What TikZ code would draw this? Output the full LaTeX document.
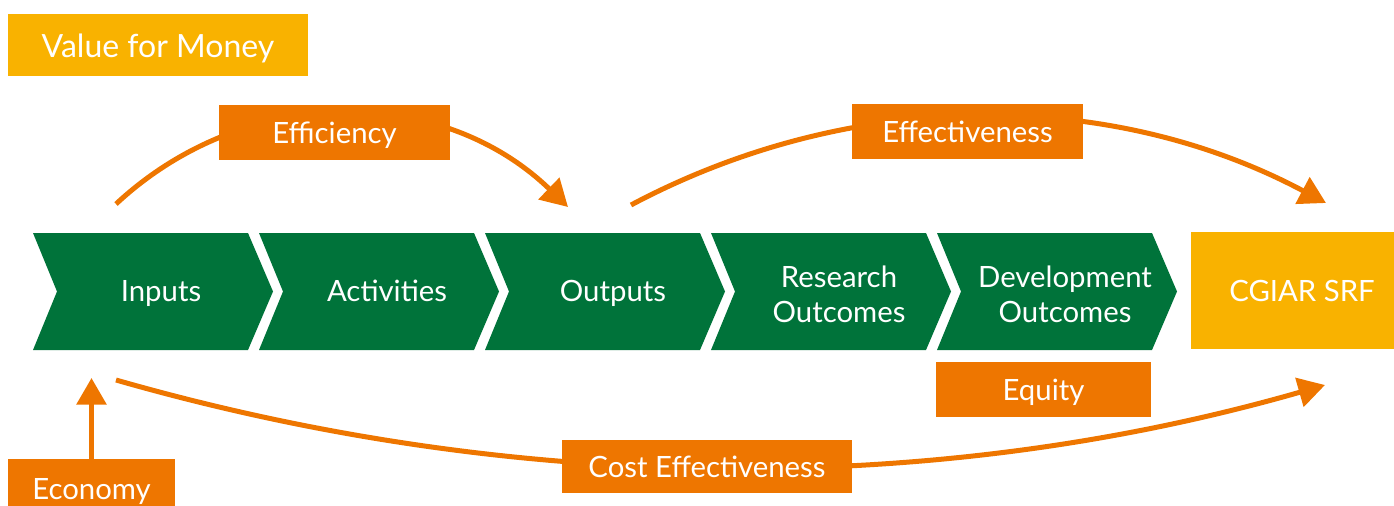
\documentclass[tikz,border=0pt]{standalone}
\usepackage{fontspec}
\setmainfont{Lato}
\usetikzlibrary{arrows.meta}
\definecolor{cgGreen}{RGB}{0,115,58}
\definecolor{cgOrange}{RGB}{238,118,0}
\definecolor{cgYellow}{RGB}{249,178,0}
\tikzset{
    lbl/.style={text=white, font=\fontsize{22}{26.25}\selectfont, align=center, inner sep=0pt, text depth=0pt},
    tag/.style={lbl, fill=cgOrange, minimum height=41.25pt},
    goal/.style={lbl, fill=cgYellow},
    flow/.style={cgOrange, line width=3.75pt, -{Triangle[length=20pt,width=22pt]}}
}
\begin{document}
\begin{tikzpicture}[x=0.75pt, y=0.75pt]
                \useasboundingbox (0,0) rectangle (1394,-506);
                \coordinate (effA) at (116,-204);
                \coordinate (effB) at (568,-207);
                \coordinate (effvA) at (631,-205);
                \coordinate (effvB) at (1326,-203);
                \coordinate (costA) at (116,-380);
                \coordinate (costB) at (1325,-385);
                \coordinate (econB) at (91.5,-378);

                \draw[flow] (effA) to[out=43, in=136] (effB);
                \draw[flow] (effvA) to[out=28, in=152, looseness=.91] (effvB);
                \draw[flow] (costA) to[out=-16, in=196, looseness=.87] (costB);

                \foreach[count=\i] \t/\yy in {Inputs/290.5,Activities/290.5,Outputs/290.5,Research\\Outcomes/294.5,Development\\Outcomes/294.5}
                {
                    \pgfmathsetmacro\xl{33+226*(\i-1)}
                    \fill[cgGreen] (\xl,-233) -- ++(215,0) -- ++(25,-58.5) -- ++(-25,-58.5) -- ++(-215,0) -- ++(24,58.5) -- cycle;
                    \node[lbl] (c\i) at (\xl+128,-\yy) {\t};
                }

                \node[goal, minimum width=225pt, minimum height=46.5pt, font=\fontsize{24}{28}\selectfont] (vfm) at (158,-45.5) {Value for Money};
                \node[goal, minimum width=166.5pt, minimum height=87.75pt] (srf) at (1302,-290.5) {CGIAR SRF};

                \node[tag, minimum width=173.25pt] (eff) at (334.5,-132.5) {Efficiency};
                \node[tag, minimum width=173.25pt] (effv) at (967.5,-132) {Effectiveness};
                \node[tag, minimum width=161.25pt] (equity) at (1043.5,-389.5) {Equity};
                \node[tag, minimum width=217.5pt, minimum height=40pt] (costeff) at (707,-466.5) {Cost Effectiveness};
                \node[tag, minimum width=125.25pt, minimum height=45pt] (economy) at (91.5,-489) {Economy};

                \draw[flow] (economy) -- (econB);
\end{tikzpicture}
\end{document}
